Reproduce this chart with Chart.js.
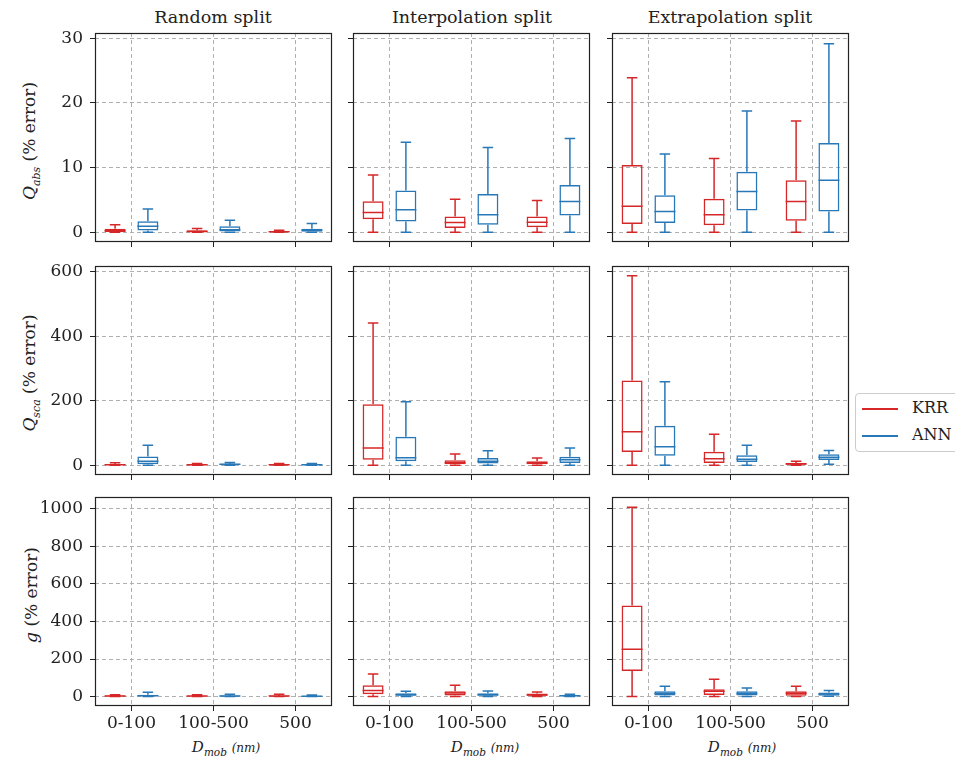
<!DOCTYPE html>
<html lang="en">
<head>
<meta charset="UTF-8" />
<title>Model error by split</title>
<script src="https://cdn.jsdelivr.net/npm/chart.js"></script>
<style>
  body { margin:0; background:#fff; width:955px; height:761px; position:relative; overflow:hidden;
         font-family:'DejaVu Serif', serif; color:#222; }
  canvas { position:absolute; }
  .title { position:absolute; font-size:17.5px; transform:translate(-50%,-50%); white-space:nowrap; }
  .ylab { position:absolute; font-size:17px; transform:translate(-50%,-50%) rotate(-90deg); white-space:nowrap; }
  .ylab sub { font-size:11px; font-style:italic; }
  .xlab { position:absolute; font-size:15px; transform:translate(-50%,-50%); white-space:nowrap; }
  .xlab sub { font-size:10.5px; font-style:italic; }
  .xlab .u { font-size:12px; font-style:italic; }
  .legend { position:absolute; left:855px; top:393px; width:120px; height:57px; border:1px solid #ccc;
            border-radius:4px; background:#fff; font-size:16px; }
  .legend div { position:absolute; left:6px; height:20px; line-height:20px; }
  .legend span { display:inline-block; width:36px; height:2px; vertical-align:middle; margin-right:14px; }
</style>
</head>
<body>
<div class="title" style="left:213px;top:17px">Random split</div>
<div class="title" style="left:472px;top:17px">Interpolation split</div>
<div class="title" style="left:730px;top:17px">Extrapolation split</div>

<div class="ylab" style="left:31px;top:141px"><i>Q</i><sub>abs</sub> (% error)</div>
<div class="ylab" style="left:31px;top:373px"><i>Q</i><sub>sca</sub> (% error)</div>
<div class="ylab" style="left:31px;top:595px"><i>g</i> (% error)</div>

<div class="xlab" style="left:226px;top:748px"><i>D</i><sub>mob</sub> <span class="u">(nm)</span></div>
<div class="xlab" style="left:485px;top:748px"><i>D</i><sub>mob</sub> <span class="u">(nm)</span></div>
<div class="xlab" style="left:742px;top:748px"><i>D</i><sub>mob</sub> <span class="u">(nm)</span></div>

<div class="legend">
  <div style="top:4px"><span style="background:#d62728"></span>KRR</div>
  <div style="top:31px"><span style="background:#2878b8"></span>ANN</div>
</div>

<script>
  const categories = ['0-100', '100-500', '500'];
  const krrPos = [0.8, 1.8, 2.8];
  const annPos = [1.2, 2.2, 3.2];

  // each box: [low whisker, q1, median, q3, high whisker]; outer index = split (random, interp, extrap)
  const qabsKRR = [
    [[0, 0.05, 0.25, 0.55, 1.15], [0, 0.03, 0.12, 0.3, 0.57], [0, 0.02, 0.08, 0.18, 0.3]],
    [[0, 2.0, 3.05, 4.8, 8.84], [0, 0.68, 1.5, 2.43, 5.1], [0, 0.78, 1.55, 2.43, 4.9]],
    [[0, 1.3, 4.03, 10.4, 23.9], [0, 1.1, 2.7, 5.17, 11.4], [0, 1.8, 4.76, 8.06, 17.2]]
  ];
  const qabsANN = [
    [[0, 0.27, 0.93, 1.7, 3.6], [0, 0.12, 0.4, 0.93, 1.86], [0, 0.1, 0.3, 0.53, 1.35]],
    [[0, 1.66, 3.47, 6.47, 13.9], [0, 1.15, 2.7, 5.9, 13.1], [0, 2.6, 4.76, 7.3, 14.5]],
    [[0, 1.45, 3.2, 5.74, 12.1], [0, 3.36, 6.3, 9.36, 18.76], [0, 3.2, 8.06, 13.8, 29.15]]
  ];
  const qscaKRR = [
    [[0, 1, 2, 4, 8], [0, 0.5, 1.5, 3, 6], [0, 0.5, 1.5, 3, 6]],
    [[0, 17.5, 53.6, 189, 441], [0, 3, 8, 15.5, 35], [0, 3, 7, 12.4, 22.6]],
    [[0, 41, 104, 263, 588], [0, 7, 20.5, 42, 96], [0, 2, 4, 7, 12.4]]
  ];
  const qscaANN = [
    [[0, 3, 13, 27, 62], [0, 1, 3, 5, 9], [0, 0.5, 1.5, 3, 6]],
    [[0, 13, 23.6, 88.6, 197], [0, 6, 12.4, 22.6, 45], [0, 7, 17.4, 26.7, 53.6]],
    [[0, 30, 57.6, 123, 259], [0, 10, 18.6, 31, 62], [3, 16.4, 25, 34, 46]]
  ];
  const gKRR = [
    [[0, 1, 3, 6, 10], [0, 1, 3, 5, 10], [0, 1, 3, 6, 12]],
    [[0, 13, 32, 60, 120], [0, 6, 19.6, 28, 60], [0, 4, 9, 16, 25]],
    [[0, 136, 252, 485, 1007], [0, 8, 28, 39, 92], [0, 5, 18, 28, 55]]
  ];
  const gANN = [
    [[0, 2, 5, 10, 23], [0, 1, 3, 6, 12], [0, 1, 2, 4, 8]],
    [[0, 4, 10, 18, 28], [0, 4, 10, 18, 30], [0, 2, 5, 8, 12]],
    [[0, 6, 16, 28, 55], [0, 6, 17, 28, 46], [2, 5, 14, 22, 32]]
  ];

  const rowKRR = [qabsKRR, qscaKRR, gKRR];
  const rowANN = [qabsANN, qscaANN, gANN];
  const rowTicks = [[0, 10, 20, 30], [0, 200, 400, 600], [0, 200, 400, 600, 800, 1000]];
  const rowMin = [-1.5, -30, -50];
  const rowMax = [30.8, 618, 1062];

  // panel frames in page pixels
  const colLeft = [95, 353, 612];
  const rowTop = [33, 266, 497];
  const frameW = 237, frameH = 209;

  const RED = '#d62728', BLUE = '#2878b8';

  Chart.defaults.font.family = "'DejaVu Serif', serif";
  Chart.defaults.font.size = 17;
  Chart.defaults.color = '#222';

  // whiskers, caps, medians and the axes frame
  const boxPlugin = {
    id: 'boxes',
    afterDatasetsDraw(chart) {
      const { ctx } = chart;
      const x = chart.scales.x, y = chart.scales.y;
      chart.data.datasets.forEach((ds, di) => {
        const meta = chart.getDatasetMeta(di);
        ctx.save();
        ctx.strokeStyle = ds.borderColor;
        ctx.lineWidth = 1.5;
        ds.stats.forEach((s, i) => {
          const bar = meta.data[i];
          const cx = x.getPixelForValue(ds.data[i].x);
          const w = bar.width;
          const [lo, q1, med, q3, hi] = s.map(v => y.getPixelForValue(v));
          ctx.beginPath();
          ctx.moveTo(cx, q1); ctx.lineTo(cx, lo);
          ctx.moveTo(cx - w / 4, lo); ctx.lineTo(cx + w / 4, lo);
          ctx.moveTo(cx, q3); ctx.lineTo(cx, hi);
          ctx.moveTo(cx - w / 4, hi); ctx.lineTo(cx + w / 4, hi);
          ctx.moveTo(cx - w / 2, med); ctx.lineTo(cx + w / 2, med);
          ctx.stroke();
        });
        ctx.restore();
      });
      const a = chart.chartArea;
      ctx.save();
      ctx.strokeStyle = '#222';
      ctx.lineWidth = 1.2;
      ctx.strokeRect(Math.round(a.left) + 0.5, Math.round(a.top) + 0.5,
                     Math.round(a.right - a.left) - 1, Math.round(a.bottom - a.top) - 1);
      ctx.restore();
    }
  };

  function makeDataset(label, pos, boxes, color) {
    return {
      label: label,
      data: pos.map((p, i) => ({ x: p, y: [boxes[i][1], boxes[i][3]] })),
      stats: boxes,
      borderColor: color,
      backgroundColor: 'rgba(0,0,0,0)',
      borderWidth: 1.5,
      borderSkipped: false,
      maxBarThickness: 21,
      barPercentage: 1,
      grouped: false
    };
  }

  for (let r = 0; r < 3; r++) {
    for (let c = 0; c < 3; c++) {
      const yw = c === 0 ? 62 : 8;
      const xh = r === 2 ? 32 : 8;
      const pt = 4, pr = 4;
      const cv = document.createElement('canvas');
      cv.width = yw + frameW + pr;
      cv.height = pt + frameH + xh;
      cv.style.left = (colLeft[c] - yw) + 'px';
      cv.style.top = (rowTop[r] - pt) + 'px';
      document.body.appendChild(cv);

      new Chart(cv, {
        type: 'bar',
        data: {
          datasets: [
            makeDataset('KRR', krrPos, rowKRR[r][c], RED),
            makeDataset('ANN', annPos, rowANN[r][c], BLUE)
          ]
        },
        options: {
          responsive: false,
          animation: false,
          layout: { padding: { top: pt, right: pr, left: 0, bottom: 0 } },
          plugins: { legend: { display: false }, tooltip: { enabled: false } },
          scales: {
            x: {
              type: 'linear',
              min: 0.555, max: 3.445,
              offset: false,
              grid: { offset: false, color: '#b0b0b0', tickColor: '#222',
                      tickBorderDash: [], tickLength: 5, tickWidth: 1 },
              border: { display: false, dash: [4, 3] },
              ticks: { display: r === 2, padding: 2, callback: v => categories[v - 1] },
              afterBuildTicks: s => { s.ticks = [1, 2, 3].map(v => ({ value: v })); },
              afterFit: s => { s.height = xh; s.paddingLeft = 0; s.paddingRight = 0; }
            },
            y: {
              type: 'linear',
              min: rowMin[r], max: rowMax[r],
              grid: { color: '#b0b0b0', tickColor: '#222',
                      tickBorderDash: [], tickLength: 5, tickWidth: 1 },
              border: { display: false, dash: [4, 3] },
              ticks: { display: c === 0, padding: 7, callback: v => String(v) },
              afterBuildTicks: s => { s.ticks = rowTicks[r].map(v => ({ value: v })); },
              afterFit: s => { s.width = yw; s.paddingTop = 0; s.paddingBottom = 0; }
            }
          }
        },
        plugins: [boxPlugin]
      });
    }
  }
</script>
</body>
</html>
